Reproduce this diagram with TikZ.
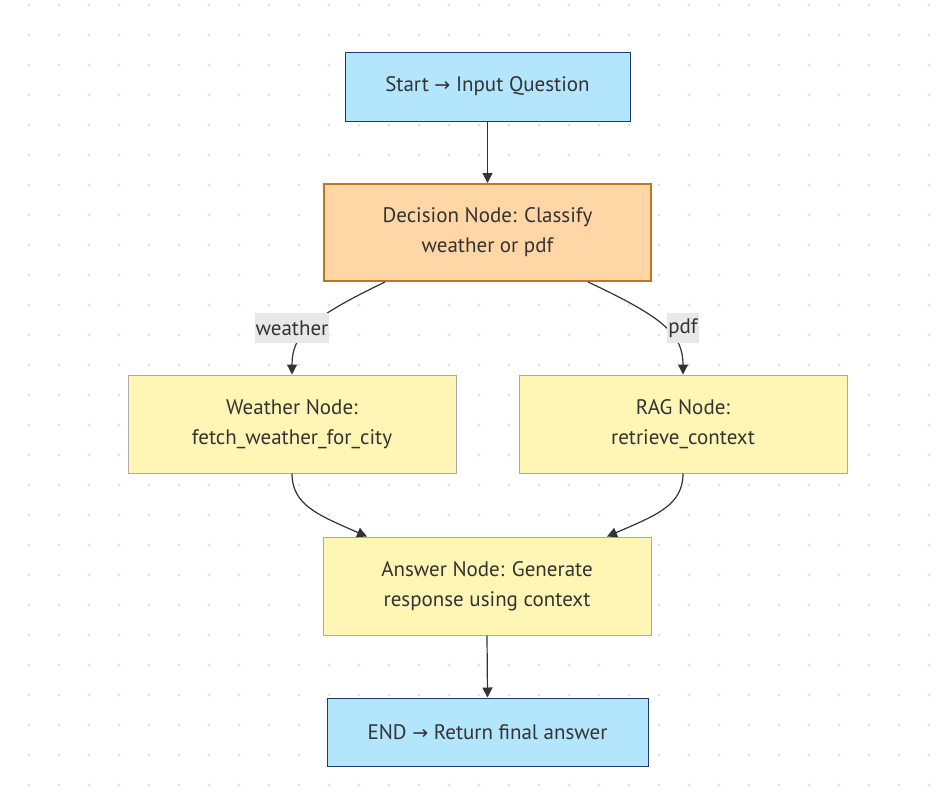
\documentclass[tikz,border=0pt]{standalone}
\usepackage{fontspec}
\setmainfont{PT Sans}
\newfontfamily\arrowfont{DejaVu Sans}
\usetikzlibrary{arrows.meta,calc}
\definecolor{bluefill}{HTML}{B3E5FC}
\definecolor{blueline}{HTML}{1E3A6E}
\definecolor{orfill}{HTML}{FFD6A5}
\definecolor{orline}{HTML}{C0751E}
\definecolor{yelfill}{HTML}{FFF6B5}
\definecolor{yelline}{HTML}{AAAAAA}
\definecolor{txt}{HTML}{333333}
\definecolor{dotc}{HTML}{E3E3E3}
\definecolor{lblbg}{HTML}{E8E8E8}
\tikzset{
  box/.style={draw, line width=1pt, align=center, text=txt,
    font=\fontsize{21}{30}\selectfont, inner sep=0pt},
  bluebox/.style={box, fill=bluefill, draw=blueline},
  orbox/.style={box, fill=orfill, draw=orline, line width=2pt},
  yelbox/.style={box, fill=yelfill, draw=yelline},
  conn/.style={draw=txt, line width=1.2pt, -{Triangle[length=10pt,width=10pt]}},
  lbl/.style={fill=lblbg, text=txt, font=\fontsize{21}{24}\selectfont,
    inner xsep=1pt, inner ysep=0pt, minimum height=30pt}
}
\newcommand{\arr}{{\arrowfont\fontsize{19}{24}\selectfont →}}
\begin{document}
\begin{tikzpicture}[x=1pt,y=-1pt]
\fill[white] (0,0) rectangle (939,803);
\useasboundingbox (0,0) rectangle (939,803);
\foreach \i in {29,59,...,929} {
  \foreach \j in {5,35,...,785} {
    \fill[dotc] (\i,\j) circle (1.6pt);
  }
}
\node[bluebox, minimum width=285pt, minimum height=69pt] (start) at (487.5,86.5) {Start \arr{} Input Question};
\node[orbox, minimum width=327pt, minimum height=97pt] (dec) at (487.5,232.5) {Decision Node: Classify\\weather or pdf};
\node[yelbox, minimum width=328pt, minimum height=98pt] (wea) at (292,424) {Weather Node:\\fetch\_weather\_for\_city};
\node[yelbox, minimum width=328pt, minimum height=98pt] (rag) at (683,424) {RAG Node:\\retrieve\_context};
\node[yelbox, minimum width=328pt, minimum height=98pt] (ans) at (487,586) {Answer Node: Generate\\response using context};
\node[bluebox, minimum width=321pt, minimum height=68pt] (end) at (487.5,732) {END \arr{} Return final answer};

\draw[conn] (start.south) -- (dec.north);
\draw[conn] (ans.south) -- (end.north);

\coordinate (d1) at ($(dec.south)+(-102.5,0)$);
\coordinate (d2) at ($(dec.south)+(100.5,0)$);
\coordinate (w1) at (wea.north);
\coordinate (r1) at (rag.north);
\coordinate (a1) at ($(ans.north)+(-120,0)$);
\coordinate (a2) at ($(ans.north)+(120,0)$);

\draw[conn] (d1) .. controls (310,318) and (292,335) .. (w1);
\draw[conn] (d2) .. controls (665,318) and (683,335) .. (r1);
\draw[conn] (wea.south) .. controls (292,505) and (318,515) .. (a1);
\draw[conn] (rag.south) .. controls (683,505) and (657,515) .. (a2);

\node[lbl] (lw) at (292,328) {weather};
\node[lbl] (lp) at (683,328) {pdf};
\end{tikzpicture}
\end{document}
